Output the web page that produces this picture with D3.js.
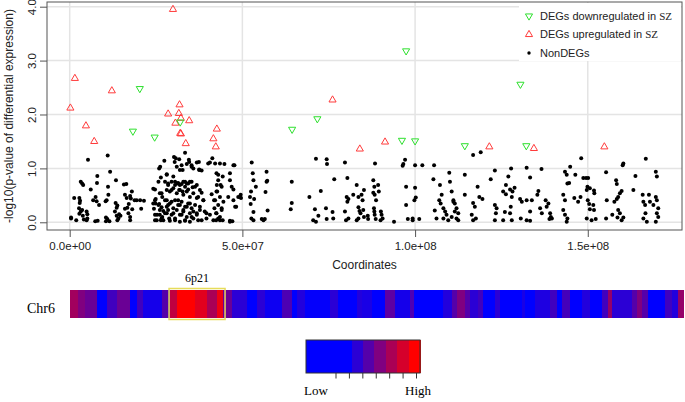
<!DOCTYPE html>
<html><head><meta charset="utf-8">
<script src="https://cdn.jsdelivr.net/npm/d3@7"></script>
<style>body{margin:0;background:#fff}svg{display:block}</style>
</head><body><svg id="c" width="685" height="402"></svg>
<script>
// ---------- data ----------
const xTicks = [0, 50, 100, 150]; // Mb
const xTickLabels = ["0.0e+00", "5.0e+07", "1.0e+08", "1.5e+08"];
const yTicks = [0, 1, 2, 3, 4];
const legendLabels = ["DEGs downregulated in ", "DEGs upregulated in ", "NonDEGs"];

// [position (Mb), -log10 p]
const upDEGs = [[0.2,2.12],[1.5,2.67],[4.7,1.79],[7.1,1.50],[12.2,2.44],[29.9,3.95],[28.5,2.01],[31.8,2.18],[31.6,2.02],[32.2,1.93],[30.6,1.84],[32.0,1.65],[32.2,1.64],[34.6,1.885],[33.6,1.46],[42.6,1.73],[41.6,1.55],[42.3,1.40],[76.1,2.27],[84.0,1.36],[91.3,1.49],[121.5,1.40],[134.4,1.37],[154.8,1.40]];
const downDEGs = [[18.3,1.69],[20.3,2.48],[24.6,1.58],[32.0,1.86],[64.4,1.725],[71.7,1.92],[96.2,1.52],[97.4,3.18],[100.0,1.51],[114.4,1.42],[130.5,2.56],[132.2,1.42]];
const nonDEGs = [
[0.4,0.07],[0.4,0.09],[5.3,1.16],[1.3,0.45],[2.8,0.45],[3.2,0.75],[3.6,0.72],[3.9,0.69],[3.0,0.40],[2.9,0.36],[2.7,0.26],[3.2,0.20],[3.6,0.23],[2.8,0.16],[3.8,0.12],[1.9,0.04],[4.1,0.05],[4.9,0.04],[5.1,0.07],[5.1,0.15],[4.9,0.20],[6.1,0.61],[6.8,0.41],[7.5,0.47],[7.8,0.39],[8.0,0.86],[7.9,0.73],[8.5,0.32],[7.4,0.02],[8.1,0.03],[11.0,1.24],[11.7,0.94],[11.1,0.66],[11.2,0.51],[10.7,0.41],[10.4,0.39],[10.5,0.09],[10.9,0.06],[10.5,0.02],[11.5,0.02],[13.4,0.78],[13.3,0.36],[13.8,0.31],[13.6,0.27],[13.1,0.20],[13.6,0.12],[13.8,0.04],[14.3,0.15],[14.1,0.07],[14.7,0.12],[15.7,0.70],[16.4,0.71],[16.0,0.51],[16.5,0.45],[17.5,0.49],[17.7,0.44],[18.0,0.57],[17.1,0.34],[16.7,0.27],[16.0,0.25],[17.0,0.17],[17.5,0.10],[17.5,0.04],[18.1,0.24],[18.8,0.41],[19.4,0.41],[20.4,0.41],[21.5,0.40],[20.7,0.25],
[24.2,0.62],[24.9,0.43],[24.8,0.35],[24.4,0.25],[24.7,0.04],[25.3,0.14],[25.9,1.00],[26.2,1.03],[27.4,1.14],[26.4,0.83],[28.1,0.88],[26.1,0.54],[26.8,0.47],[25.9,0.34],[26.6,0.28],[27.1,0.21],[26.1,0.14],[26.8,0.10],[26.4,0.04],[27.1,0.04],[28.1,0.41],[28.5,0.32],[28.1,0.17],[28.8,0.07],[30.7,1.19],[30.4,1.12],[31.0,1.03],[31.9,0.97],[33.4,1.29],[32.4,1.06],[33.9,1.08],[34.6,1.12],[35.3,1.06],[35.8,1.00],[36.8,1.11],[37.5,0.97],[38.2,0.96],[37.4,1.12],[40.6,1.11],[41.3,1.19],[42.1,1.09],[44.8,1.08],[47.4,1.06],
[30.2,1.21],[31.7,1.17],[34.5,1.16],[40.1,1.09],[43.5,1.09],[47.7,1.06],[32.7,0.97],[35.3,1.03],[37.5,0.98],[28.1,0.89],[30.0,0.85],[43.0,0.88],[44.3,0.85],[46.4,0.91],[25.7,0.75],[24.7,0.61],[26.6,0.54],[28.5,0.69],[29.5,0.60],
[30.5,0.75],[31.2,0.72],[31.9,0.69],[32.9,0.75],[33.9,0.72],[34.8,0.75],[33.4,0.66],[31.7,0.60],[32.7,0.57],[34.3,0.61],[35.6,0.65],[36.8,0.69],[38.2,0.55],[37.2,0.47],
[41.1,0.52],[42.6,0.69],[44.0,0.66],[42.7,0.57],[43.5,0.47],[41.8,0.41],[44.5,0.38],[45.9,0.47],[47.9,0.29],[49.3,0.47],
[24.7,0.41],[24.2,0.35],[25.7,0.32],[26.1,0.23],[24.7,0.14],[25.2,0.04],[26.6,0.07],[27.6,0.17],[28.1,0.29],[29.0,0.35],[30.0,0.26],[29.5,0.14],[30.5,0.07],[31.4,0.41],[31.9,0.32],[32.9,0.23],[32.4,0.14],[33.4,0.04],[33.9,0.29],[34.8,0.35],[35.8,0.20],[35.3,0.10],[36.8,0.17],[37.2,0.04],[37.7,0.29],[38.7,0.41],[39.1,0.20],[39.6,0.07],[40.6,0.14],[41.9,0.26],[42.4,0.17],[43.0,0.07],[44.0,0.23],[43.5,0.04],[41.6,0.04],[46.4,0.01],
[27.6,0.75],[28.5,0.72],[29.5,0.75],[30.5,0.69],[31.4,0.73],[32.4,0.71],[33.4,0.75],[34.3,0.72],[35.3,0.75],[36.3,0.66],[28.1,0.60],[29.0,0.57],[30.0,0.63],[31.0,0.54],[31.9,0.60],[32.9,0.51],[33.9,0.57],[34.8,0.47],[35.8,0.54],[36.8,0.45],[27.6,0.41],[29.5,0.38],[30.5,0.41],[31.4,0.32],[32.4,0.38],[33.4,0.29],[34.3,0.35],[35.3,0.26],[36.3,0.32],[37.7,0.23],[28.5,0.23],[30.0,0.17],[31.0,0.23],[31.9,0.14],[32.9,0.20],[33.9,0.10],[34.8,0.17],[35.8,0.07],[36.8,0.14],[38.2,0.04],[29.0,0.03],[30.5,0.04],[31.9,0.01],[33.4,0.03],[34.8,0.01],[37.7,0.60],[38.7,0.41],[39.6,0.17],
[42.5,0.91],[43.0,0.78],[43.7,0.69],[42.5,0.57],[42.1,0.41],[43.0,0.32],[44.0,0.26],[42.5,0.17],[43.5,0.10],[42.4,0.04],[44.3,0.04],[46.4,0.78],[46.9,0.66],[47.4,0.41],[46.4,0.03],[47.1,0.02],[48.2,0.29],[48.8,0.47],
[47.4,0.61],[49.5,0.51],[49.6,0.45],[52.7,1.11],[53.0,0.91],[53.2,0.78],[52.5,0.57],[52.2,0.47],[53.4,0.43],[52.4,0.34],[53.2,0.19],[52.6,0.07],[53.2,0.04],[53.9,0.66],[57.0,0.94],[57.2,0.77],[57.0,0.75],[57.3,0.22],[55.6,0.06],[56.1,0.04],[56.5,0.06],[56.7,0.56],[64.3,0.75],[64.3,0.36],[64.0,0.24],[71.3,1.18],[74.4,1.17],[74.5,1.08],[72.7,0.58],[69.4,0.47],[71.0,0.24],[72.0,0.12],[70.5,0.04],[71.3,0.01],[74.2,0.26],[74.4,0.06],[76.1,0.19],[76.3,0.07],[76.6,0.80],[79.7,1.11],[80.4,0.82],[80.2,0.47],[80.7,0.43],[80.4,0.38],[79.7,0.20],[80.0,0.04],[80.7,0.07],[82.1,0.51],[83.1,0.69],[83.6,0.47],[83.6,0.28],[83.9,0.21],[84.2,0.17],[83.1,0.04],[83.6,0.07],[84.5,0.51],[84.8,0.41],[85.2,0.60],[85.0,0.23],[85.2,0.10],[86.3,0.12],[86.4,0.06],[87.9,0.78],[88.2,0.66],[87.9,0.55],[88.3,0.51],[88.7,0.41],[88.1,0.26],[88.2,0.20],[88.3,0.14],[88.6,0.06],[89.3,0.69],[89.5,0.57],[90.1,0.20],[90.3,0.14],[90.6,0.07],[90.0,0.04],[88.4,1.09],[93.9,0.01],[96.6,1.08],[97.1,1.16],[96.4,1.05],[97.4,0.66],[97.4,0.32],[97.9,0.06],[99.3,0.07],[99.3,0.04],[100.0,1.06],[102.1,1.06],[100.0,0.64],[100.2,0.46],[99.8,0.41],[101.2,0.06],[105.5,1.06],[105.3,0.80],[105.7,0.22],[106.2,0.07],[107.2,0.69],[107.7,0.51],[107.0,0.41],[107.4,0.35],[108.2,0.26],[108.7,0.20],[109.1,0.14],[108.2,0.07],[109.6,0.04],[109.9,0.92],[110.1,0.75],[110.6,0.57],[111.1,0.41],[111.5,0.35],[112.0,0.26],[112.5,0.17],[111.1,0.38],[111.5,0.20],[110.6,0.10],[112.0,0.07],[112.5,0.04],
[114.4,0.88],[114.4,0.51],[116.8,1.25],[119.0,1.30],[116.8,0.36],[117.3,0.29],[116.4,0.14],[117.6,0.07],[116.8,0.04],[118.1,0.66],[118.6,0.47],[119.5,0.43],[121.9,0.80],[123.1,0.96],[123.1,0.32],[123.6,0.26],[123.4,0.17],[123.1,0.04],[125.5,0.04],[125.5,0.57],[126.3,0.52],[127.5,0.61],[128.2,0.57],[128.8,0.64],[128.0,0.47],[126.3,0.69],[127.0,0.85],[127.8,1.00],[127.7,0.29],[127.5,0.17],[126.0,0.19],[128.0,0.04],[130.4,0.43],[130.9,0.38],[132.3,0.41],[133.8,0.41],[133.3,0.20],[130.6,0.07],[132.3,0.04],[133.3,0.03],[132.3,1.01],[133.3,0.83],[135.7,0.58],[135.4,0.51],[136.6,0.99],[136.2,0.26],[136.7,0.17],[138.1,0.29],[139.1,0.17],[139.3,0.10],[139.6,0.07],[138.9,0.06],[137.8,0.41],[138.6,0.35],[142.9,0.51],[143.4,0.41],[142.9,0.23],[143.4,0.14],[144.1,0.07],[143.9,0.01],[143.4,0.94],[143.9,0.88],[144.9,1.03],[144.1,0.72],[144.6,0.73],[146.4,0.88],[146.1,0.45],[147.2,0.38],[147.9,0.47],[148.1,1.19],[148.7,0.82],[149.5,0.82],[150.1,0.82],[149.9,0.66],[149.7,0.60],[150.6,0.63],[151.8,0.59],[150.0,0.41],[150.4,0.34],[150.6,0.24],[151.6,0.32],[151.8,0.23],[149.7,0.07],[151.1,0.04],[152.3,0.06],[151.9,0.54],[155.3,0.93],[155.5,0.41],[155.3,0.07],[157.1,0.14],[157.7,0.38],[158.4,0.43],[158.8,0.47],[159.3,0.54],[159.8,0.58],[160.3,1.09],[160.1,1.06],[158.2,0.78],[158.4,0.71],[158.8,0.23],[159.3,0.17],[158.6,0.09],[159.8,0.04],[160.3,0.09],[163.2,0.60],[163.8,0.86],[166.8,1.18],[166.1,0.38],[166.6,0.32],[166.1,0.07],[167.1,0.01],[165.9,0.51],[167.7,0.51],[168.0,0.38],[169.0,0.32],[169.7,0.47],[170.0,0.41],[170.4,0.26],[170.0,0.17],[170.4,0.10],[169.7,0.01],[169.7,0.94],[170.0,0.85],[166.7,0.17]
];

// Chr6 density heatmap: segment start positions (Mb) and levels (0 = low .. 6 = high)
const chrLength = 170.8;
const segStarts = [0,2.2,4.2,7.5,10.3,13.1,16.7,18.7,20.3,25.6,27.9,29.8,34.8,38.2,41.0,42.6,45.1,49.3,52.1,54.3,59.1,61.8,63.2,65.5,72.4,74.7,80.0,81.3,84.1,87.8,90.5,94.7,95.8,103.9,106.4,107.8,110.0,111.4,113.7,115.1,118.4,119.8,125.9,126.8,129.6,133.7,135.7,137.1,139.3,142.6,144.9,148.2,149.9,151.0,156.6,158.0,159.4,161.0,165.8,167.7,169.4];
const segLevels = [3.8,3,2.5,0,1.5,2.5,0,1.5,0.5,2,4.5,6,5.3,4,5.6,2.5,1,0,1,0.3,1.8,0,0.8,0.1,1,0,0.8,0.6,0,2.2,0.5,1.8,0,0.8,2,3,2,1,1.5,0,1,0,0.6,0,0.7,1.5,0,1.6,0,0.8,0,1.5,3.5,1,2,3,2,0,1.5,0.8,3.5];
const bandRegion = [27.6, 43.2];
const bandLabel = "6p21";
const chrLabel = "Chr6";
const colorKeyLevels = [0,0,0,0,1,2,3,4,5,6];
const colorKeyTicks = [0,1,2,3,4,5,6];

// ---------- drawing ----------
const SANS = "'Liberation Sans', Arial, sans-serif";
const SERIF = "'Liberation Serif', 'Times New Roman', serif";
const svg = d3.select("#c").style("font-family", SANS);
const x = d3.scaleLinear().domain([-6.57, 177.28]).range([47, 682]);
const y = d3.scaleLinear().domain([-0.143, 4.087]).range([230, 2]);
const grid = "#e4e4e4";

// grid
svg.append("g").selectAll("line").data(xTicks).join("line")
  .attr("x1", d => x(d)).attr("x2", d => x(d)).attr("y1", 2).attr("y2", 230)
  .attr("stroke", grid).attr("stroke-width", 1.5);
svg.append("g").selectAll("line").data(yTicks).join("line")
  .attr("y1", d => y(d)).attr("y2", d => y(d)).attr("x1", 47).attr("x2", 682)
  .attr("stroke", grid).attr("stroke-width", 1.5);

// points
svg.append("g").selectAll("circle").data(nonDEGs).join("circle")
  .attr("cx", d => x(d[0])).attr("cy", d => y(d[1])).attr("r", 2).attr("fill", "#000");

const tri = d3.symbol().type(d3.symbolTriangle).size(22);
svg.append("g").selectAll("path").data(upDEGs).join("path")
  .attr("d", tri).attr("transform", d => `translate(${x(d[0])},${y(d[1])})`)
  .attr("fill", "none").attr("stroke", "#ff3b3b").attr("stroke-width", 1);
svg.append("g").selectAll("path").data(downDEGs).join("path")
  .attr("d", tri).attr("transform", d => `translate(${x(d[0])},${y(d[1])}) rotate(180)`)
  .attr("fill", "none").attr("stroke", "#2ee02e").attr("stroke-width", 1);

// legend
const lg = svg.append("g");
lg.append("rect").attr("x", 519).attr("y", 3).attr("width", 162).attr("height", 58).attr("fill", "#fff");
const rowsY = [16, 34.5, 53];
lg.append("path").attr("d", tri).attr("transform", `translate(529,${rowsY[0]}) rotate(180)`).attr("fill", "none").attr("stroke", "#2ee02e");
lg.append("path").attr("d", tri).attr("transform", `translate(529,${rowsY[1]})`).attr("fill", "none").attr("stroke", "#ff3b3b");
lg.append("circle").attr("cx", 529).attr("cy", rowsY[2]).attr("r", 1.7).attr("fill", "#000");
legendLabels.forEach((t, i) => {
  const tx = lg.append("text").attr("x", 540).attr("y", rowsY[i]).attr("dy", "0.35em")
    .attr("font-size", 11).attr("fill", "#222").text(t);
  if (i < 2) tx.append("tspan").style("font-family", SERIF).text("SZ");
});

// box
svg.append("rect").attr("x", 47).attr("y", 2).attr("width", 635).attr("height", 228)
  .attr("fill", "none").attr("stroke", "#555").attr("stroke-width", 1);

// axes
const ax = svg.append("g").attr("transform", "translate(0,230)")
  .call(d3.axisBottom(x).tickValues(xTicks).tickFormat((d, i) => xTickLabels[i]).tickSize(7).tickPadding(5));
ax.select(".domain").remove();
ax.selectAll("line").attr("stroke", "#555");
ax.selectAll("text").attr("font-size", 11.5).attr("fill", "#222").style("font-family", SANS);

const ay = svg.append("g").attr("transform", "translate(47,0)")
  .call(d3.axisLeft(y).tickValues(yTicks).tickSize(7));
ay.select(".domain").remove();
ay.selectAll("line").attr("stroke", "#555");
ay.selectAll("text").attr("x", null).attr("dy", null).attr("text-anchor", "middle")
  .attr("transform", "translate(-11,0) rotate(-90)")
  .attr("font-size", 11.5).attr("fill", "#222").style("font-family", SANS);

svg.append("text").attr("x", 364.5).attr("y", 269).attr("text-anchor", "middle")
  .attr("font-size", 12).attr("fill", "#222").text("Coordinates");
svg.append("text").attr("transform", "translate(12.5,116) rotate(-90)").attr("text-anchor", "middle")
  .attr("font-size", 12).attr("fill", "#222").text("-log10(p-value of differential expression)");

// heatmap bar
const bx = d3.scaleLinear().domain([0, chrLength]).range([70, 683]);
const col = d3.scaleLinear().domain([0, 6]).range(["#0000ff", "#ff0000"]).interpolate(d3.interpolateRgb);
const segs = segStarts.map((s, i) => ({s, e: i + 1 < segStarts.length ? segStarts[i + 1] : chrLength, v: segLevels[i]}));
svg.append("g").attr("shape-rendering", "crispEdges").selectAll("rect").data(segs).join("rect")
  .attr("x", d => bx(d.s)).attr("width", d => bx(d.e) - bx(d.s) + 0.6)
  .attr("y", 290).attr("height", 28).attr("fill", d => col(d.v));
svg.append("rect").attr("x", bx(bandRegion[0])).attr("y", 288.5)
  .attr("width", bx(bandRegion[1]) - bx(bandRegion[0])).attr("height", 31)
  .attr("fill", "none").attr("stroke", "#e6dc5a").attr("stroke-width", 1.5);
svg.append("text").attr("x", (bx(bandRegion[0]) + bx(bandRegion[1])) / 2).attr("y", 282)
  .attr("text-anchor", "middle").style("font-family", SERIF).attr("font-size", 12).text(bandLabel);
svg.append("text").attr("x", 27).attr("y", 313)
  .style("font-family", SERIF).attr("font-size", 14).text(chrLabel);

// color key
const kx = d3.scaleBand().domain(d3.range(colorKeyLevels.length)).range([306, 420]);
const key = svg.append("g");
key.append("g").attr("shape-rendering", "crispEdges").selectAll("rect").data(colorKeyLevels).join("rect")
  .attr("x", (d, i) => kx(i)).attr("width", kx.bandwidth() + 0.6).attr("y", 340).attr("height", 33)
  .attr("fill", d => col(d));
key.append("rect").attr("x", 306).attr("y", 340).attr("width", 114).attr("height", 33)
  .attr("fill", "none").attr("stroke", "#333").attr("stroke-width", 1);
const tk = d3.scaleLinear().domain([0, 6]).range([336, 416.5]);
key.selectAll("line").data(colorKeyTicks).join("line")
  .attr("x1", d => tk(d)).attr("x2", d => tk(d)).attr("y1", 373).attr("y2", 378.5)
  .attr("stroke", "#333").attr("stroke-width", 1);
key.append("text").attr("x", 316).attr("y", 395).attr("text-anchor", "middle")
  .style("font-family", SERIF).attr("font-size", 13).text("Low");
key.append("text").attr("x", 418).attr("y", 395).attr("text-anchor", "middle")
  .style("font-family", SERIF).attr("font-size", 13).text("High");
</script></body></html>
